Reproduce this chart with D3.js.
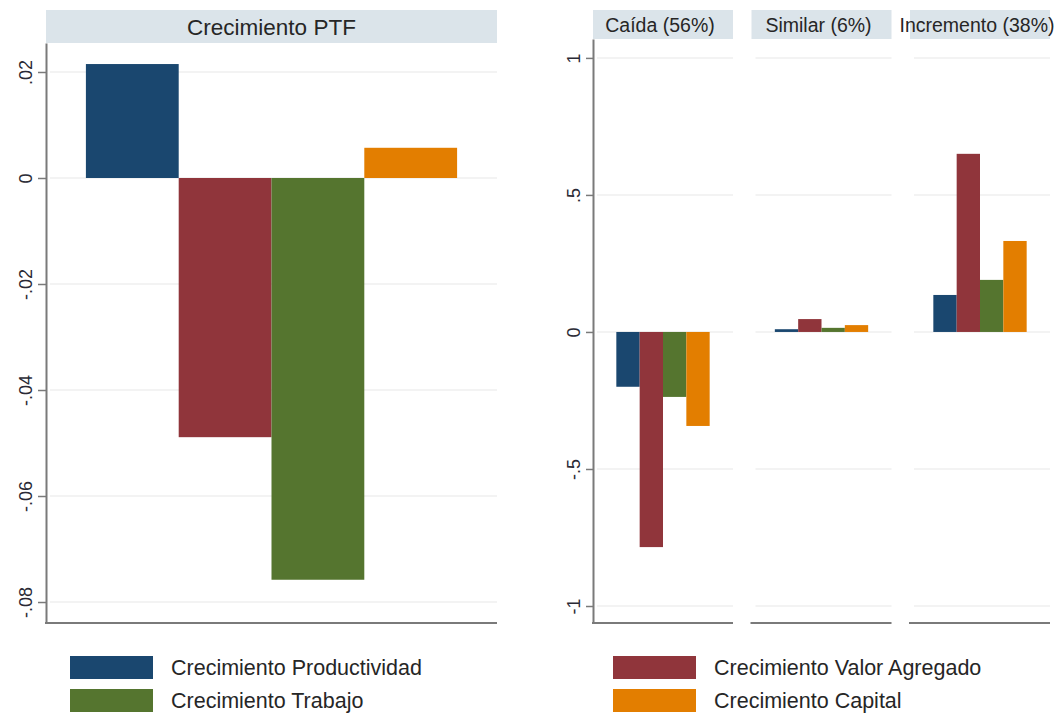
<!DOCTYPE html>
<html>
<head>
	<meta charset="utf-8">
	<script src="https://cdnjs.cloudflare.com/ajax/libs/d3/7.8.5/d3.min.js"></script>
	<style>
		body { margin: 0; background: #fff; }
		svg { font-family: "Liberation Sans", Arial, sans-serif; }
		.axis path, .axis line { stroke: #7a7a7a; }
		.axis path { stroke-width: 2; }
		.axis line { stroke-width: 1.5; }
		.axis text { fill: #2a2a35; font-size: 18px; }
		.grid { stroke: #efefef; stroke-width: 1.5; }
		.strip { fill: #dbe4ea; }
		.strip_text { fill: #262626; }
		.legend_text { fill: #262626; font-size: 21.5px; }
	</style>
</head>
<body>
	<script>
		// series (same order in both panels and in the legend)
		var series = ["Crecimiento Productividad", "Crecimiento Valor Agregado", "Crecimiento Trabajo", "Crecimiento Capital"];
		var colors = ["#1a476f", "#90353b", "#55752f", "#e37e00"];

		// left panel: Crecimiento PTF
		var leftTitle = "Crecimiento PTF";
		var leftValues = [0.0215, -0.0489, -0.0758, 0.0057];
		var leftTicks = [0.02, 0, -0.02, -0.04, -0.06, -0.08];
		var leftTickLabels = [".02", "0", "-.02", "-.04", "-.06", "-.08"];

		// right panel: groups
		var groups = ["Caída (56%)", "Similar (6%)", "Incremento (38%)"];
		var caidaValues = [-0.20, -0.785, -0.237, -0.343];
		var similarValues = [0.010, 0.047, 0.015, 0.025];
		var incrementoValues = [0.135, 0.650, 0.190, 0.332];
		var rightTicks = [1, 0.5, 0, -0.5, -1];
		var rightTickLabels = ["1", ".5", "0", "-.5", "-1"];

		var width = 1064;
		var height = 715;

		var svg = d3.select("body")
			.append("svg")
			.attr("width", width)
			.attr("height", height);

		// ---------- left panel ----------
		var left = { x0: 46, x1: 497, top: 43, bottom: 623, stripTop: 10 };

		var yLeft = d3.scaleLinear()
			.domain([-0.08396, 0.02547])
			.range([left.bottom, left.top]);

		var xLeft = d3.scaleBand()
			.domain(series)
			.range([left.x0, left.x1])
			.paddingInner(0)
			.paddingOuter(0.43);

		// grid
		svg.append("g")
			.selectAll("line")
			.data(leftTicks)
			.enter()
			.append("line")
			.attr("class", "grid")
			.attr("x1", left.x0 + 4)
			.attr("x2", left.x1)
			.attr("y1", function(d) { return yLeft(d); })
			.attr("y2", function(d) { return yLeft(d); });

		// strip
		svg.append("rect")
			.attr("class", "strip")
			.attr("x", left.x0)
			.attr("y", left.stripTop)
			.attr("width", left.x1 - left.x0)
			.attr("height", left.top - left.stripTop);
		svg.append("text")
			.attr("class", "strip_text")
			.attr("x", (left.x0 + left.x1) / 2)
			.attr("y", (left.top + left.stripTop) / 2)
			.attr("dy", "0.36em")
			.attr("text-anchor", "middle")
			.style("font-size", "22.5px")
			.text(leftTitle);

		// bars
		svg.append("g")
			.selectAll("rect")
			.data(leftValues)
			.enter()
			.append("rect")
			.attr("x", function(d, i) { return xLeft(series[i]); })
			.attr("width", xLeft.bandwidth())
			.attr("y", function(d) { return yLeft(Math.max(0, d)); })
			.attr("height", function(d) { return Math.abs(yLeft(d) - yLeft(0)); })
			.attr("fill", function(d, i) { return colors[i]; });

		// axes
		var yAxisLeft = d3.axisLeft(yLeft)
			.tickValues(leftTicks)
			.tickFormat(function(d, i) { return leftTickLabels[i]; })
			.tickSize(8)
			.tickSizeOuter(0);

		var gl = svg.append("g")
			.attr("class", "axis")
			.attr("transform", "translate(" + [left.x0, 0] + ")")
			.call(yAxisLeft);
		gl.selectAll("text")
			.attr("transform", "rotate(-90)")
			.attr("x", 0)
			.attr("y", -14)
			.attr("dy", 0)
			.attr("text-anchor", "middle");

		svg.append("line")
			.attr("x1", left.x0 - 1)
			.attr("x2", left.x1)
			.attr("y1", left.bottom)
			.attr("y2", left.bottom)
			.attr("stroke", "#7a7a7a")
			.attr("stroke-width", 2);

		// ---------- right panel ----------
		var right = { x0: 593, x1: 1050, top: 39, bottom: 623, stripTop: 10 };
		var groupValues = [caidaValues, similarValues, incrementoValues];

		var yRight = d3.scaleLinear()
			.domain([-1.062, 1.069])
			.range([right.bottom, right.top]);

		var xGroup = d3.scaleBand()
			.domain(groups)
			.range([right.x0, right.x1])
			.paddingInner(0.1167)
			.paddingOuter(0);

		var xInner = d3.scaleBand()
			.domain(series)
			.range([0, xGroup.bandwidth()])
			.paddingInner(0)
			.paddingOuter(1);

		var panels = svg.selectAll(".panel")
			.data(groups)
			.enter()
			.append("g")
			.attr("class", "panel")
			.attr("transform", function(d) { return "translate(" + [xGroup(d), 0] + ")"; });

		panels.selectAll(".grid")
			.data(rightTicks)
			.enter()
			.append("line")
			.attr("class", "grid")
			.attr("x1", 4)
			.attr("x2", xGroup.bandwidth())
			.attr("y1", function(d) { return yRight(d); })
			.attr("y2", function(d) { return yRight(d); });

		panels.append("rect")
			.attr("class", "strip")
			.attr("x", 0)
			.attr("y", right.stripTop)
			.attr("width", xGroup.bandwidth())
			.attr("height", right.top - right.stripTop);

		panels.append("text")
			.attr("class", "strip_text")
			.attr("x", xGroup.bandwidth() / 2 - 3)
			.attr("y", (right.top + right.stripTop) / 2)
			.attr("dy", "0.36em")
			.attr("text-anchor", "middle")
			.style("font-size", "19.5px")
			.text(function(d) { return d; });

		panels.selectAll(".bar")
			.data(function(d, gi) { return groupValues[gi]; })
			.enter()
			.append("rect")
			.attr("class", "bar")
			.attr("x", function(d, i) { return xInner(series[i]); })
			.attr("width", xInner.bandwidth())
			.attr("y", function(d) { return yRight(Math.max(0, d)); })
			.attr("height", function(d) { return Math.abs(yRight(d) - yRight(0)); })
			.attr("fill", function(d, i) { return colors[i]; });

		panels.append("line")
			.attr("x1", -1)
			.attr("x2", xGroup.bandwidth())
			.attr("y1", right.bottom)
			.attr("y2", right.bottom)
			.attr("stroke", "#7a7a7a")
			.attr("stroke-width", 2);

		var yAxisRight = d3.axisLeft(yRight)
			.tickValues(rightTicks)
			.tickFormat(function(d, i) { return rightTickLabels[i]; })
			.tickSize(7)
			.tickSizeOuter(0);

		var gr = svg.append("g")
			.attr("class", "axis")
			.attr("transform", "translate(" + [right.x0, 0] + ")")
			.call(yAxisRight);
		gr.selectAll("text")
			.attr("transform", "rotate(-90)")
			.attr("x", 0)
			.attr("y", -13)
			.attr("dy", 0)
			.attr("text-anchor", "middle");

		// ---------- legend ----------
		var legendX = [70, 613];
		var legendY = [656, 689];
		var legendPos = [[0, 0], [1, 0], [0, 1], [1, 1]];

		var legend = svg.selectAll(".legend")
			.data(series)
			.enter()
			.append("g")
			.attr("class", "legend")
			.attr("transform", function(d, i) {
				return "translate(" + [legendX[legendPos[i][0]], legendY[legendPos[i][1]]] + ")";
			});

		legend.append("rect")
			.attr("width", 83)
			.attr("height", 23)
			.attr("fill", function(d, i) { return colors[i]; });

		legend.append("text")
			.attr("class", "legend_text")
			.attr("x", 101)
			.attr("y", 11.5)
			.attr("dy", "0.36em")
			.text(function(d) { return d; });
	</script>
</body>
</html>
